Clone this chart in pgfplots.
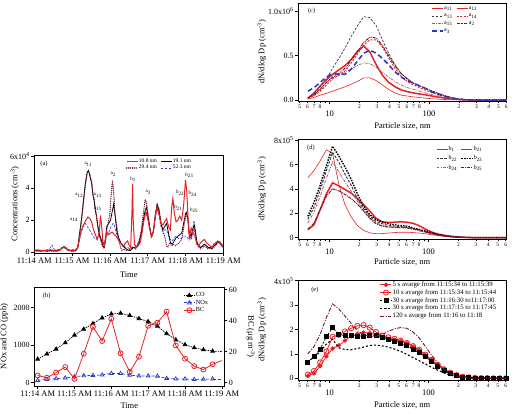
\documentclass[border=0pt]{standalone}
\usepackage{fontspec}
\setmainfont{Liberation Serif}
\usepackage{pgfplots}
\pgfplotsset{compat=1.18}
\usepackage{pgfplotstable}

\definecolor{myred}{RGB}{232,32,36}
\definecolor{mymaroon}{RGB}{112,18,48}
\definecolor{mymauve}{RGB}{170,80,110}
\definecolor{mygray}{RGB}{55,55,65}
\definecolor{myblue}{RGB}{40,55,195}
\newcommand{\fs}[1]{\fontsize{#1}{#1}\selectfont}

\pgfplotsset{
 panel/.style={
  scale only axis,
  axis line style={line width=0.6pt},
  tick align=outside,
  major tick length=3bp, minor tick length=2bp,
  tick style={line width=0.5pt,black},
  tick label style={font=\fontsize{8.5}{9}\selectfont, inner sep=1.5pt},
  yticklabel style={font=\fontsize{8}{9}\selectfont},
  label style={font=\fontsize{8.5}{10}\selectfont},
  legend style={draw=none, fill=none, inner sep=0pt, outer sep=0pt, row sep=0pt, nodes={inner sep=0.6pt}},
  legend cell align=left,
  legend image code/.code={\draw[mark repeat=2,mark phase=2,##1] plot coordinates {(0bp,0bp) (5.5bp,0bp) (11bp,0bp)};},
 },
 lpanel/.style={panel, xtick pos=left, ytick pos=left},
 psd/.style={lpanel,
   xtick={10,100}, xticklabels={10,100}, minor xtick={9,90},
   extra x ticks={5,6,7,8,20,30,40,50,60,70,80,200,300,400,500,600},
   extra x tick labels={5,6,7,8,2,3,4,5,6,7,8,2,3,4,5,6},
   xticklabel shift=5bp,
   extra x tick style={xticklabel shift=0bp, major tick length=2bp, tick label style={font=\fontsize{5.5}{6}\selectfont}},
   xlabel={Particle size, nm}, ylabel={dN/dlog Dp (cm\textsuperscript{-3})},
   ylabel style={at={(axis description cs:-0.175,0.5)}, anchor=center},
 },
}

\pgfplotstableread{
dp a11 a12 a13 a14 a15 a2 a3
6.04 0.01 0.02 0.02 0.02 0.015 0.02 0.10
6.97 0.03 0.08 0.07 0.05 0.06 0.06 0.14
8.05 0.055 0.16 0.15 0.10 0.13 0.12 0.20
9.30 0.075 0.23 0.24 0.17 0.20 0.20 0.26
10.74 0.10 0.29 0.36 0.24 0.25 0.26 0.30
12.40 0.125 0.34 0.47 0.28 0.28 0.30 0.29
14.32 0.15 0.39 0.59 0.33 0.31 0.36 0.29
16.54 0.18 0.46 0.72 0.42 0.35 0.45 0.35
19.1 0.21 0.55 0.84 0.52 0.39 0.55 0.44
22.05 0.25 0.61 0.94 0.62 0.42 0.65 0.53
25.47 0.25 0.54 0.93 0.68 0.41 0.71 0.56
29.4 0.22 0.40 0.84 0.68 0.37 0.70 0.53
33.96 0.17 0.28 0.68 0.60 0.31 0.62 0.47
39.2 0.12 0.20 0.53 0.48 0.26 0.50 0.40
45.3 0.08 0.15 0.40 0.36 0.21 0.39 0.32
52.3 0.055 0.115 0.30 0.27 0.17 0.30 0.26
60.4 0.045 0.095 0.24 0.21 0.14 0.24 0.22
69.7 0.035 0.08 0.19 0.17 0.12 0.19 0.19
80.5 0.028 0.068 0.16 0.14 0.10 0.16 0.16
93.0 0.02 0.058 0.13 0.11 0.08 0.13 0.13
107.4 0.015 0.045 0.10 0.085 0.06 0.10 0.09
124.0 0.01 0.033 0.075 0.06 0.045 0.075 0.065
143.2 0.006 0.022 0.05 0.04 0.03 0.05 0.04
165.4 0.004 0.013 0.03 0.025 0.02 0.03 0.025
191 0.002 0.007 0.015 0.012 0.01 0.015 0.012
220.5 0.001 0.003 0.007 0.005 0.005 0.007 0.005
254.7 0.001 0.001 0.003 0.002 0.002 0.003 0.002
294 0 0 0.001 0.001 0.001 0.001 0.001
339.6 0 0 0 0 0 0 0
392 0 0 0 0 0 0 0
453 0 0 0 0 0 0 0
523 0 0 0 0 0 0 0
604 0 0 0 0 0 0 0
}\tabc

\pgfplotstableread{
dp b1 b21 b22 b23 b24 b25
6.04 4.9 0.65 1.5 1.75 1.2 0.7
6.97 5.5 1.05 2.5 2.9 2.1 1.2
8.05 6.3 2.3 3.9 4.3 3.4 2.3
9.30 7.2 3.6 5.5 5.9 4.9 3.4
10.74 6.9 4.5 7.0 7.5 6.2 4.0
12.40 4.4 4.25 6.2 6.7 5.4 3.85
14.32 2.7 3.95 5.2 5.8 4.6 3.55
16.54 1.7 3.65 4.3 4.8 3.8 3.2
19.1 1.0 3.2 3.2 3.6 3.0 2.75
22.05 0.6 2.7 2.4 2.6 2.2 2.2
25.47 0.4 2.2 1.75 1.9 1.6 1.6
29.4 0.33 1.6 1.35 1.5 1.25 1.15
33.96 0.34 1.3 1.15 1.3 1.0 0.95
39.2 0.38 1.25 1.0 1.15 0.9 0.87
45.3 0.42 1.27 0.95 1.05 0.85 0.85
52.3 0.45 1.3 0.9 1.0 0.82 0.85
60.4 0.45 1.27 0.85 0.95 0.78 0.82
69.7 0.42 1.18 0.75 0.8 0.68 0.74
80.5 0.38 0.98 0.62 0.68 0.56 0.62
93.0 0.32 0.7 0.5 0.55 0.44 0.47
107.4 0.24 0.46 0.37 0.4 0.32 0.33
124 0.17 0.3 0.25 0.27 0.22 0.22
143.2 0.11 0.2 0.16 0.17 0.14 0.14
165.4 0.07 0.13 0.1 0.1 0.08 0.08
191 0.04 0.08 0.05 0.06 0.04 0.04
220.5 0.02 0.04 0.025 0.03 0.02 0.02
254.7 0.01 0.02 0.01 0.015 0.01 0.01
294 0 0.01 0 0 0 0
339.6 0 0 0 0 0 0
392 0 0 0 0 0 0
453 0 0 0 0 0 0
523 0 0 0 0 0 0
604 0 0 0 0 0 0
}\tabd

\pgfplotstableread{
dp s5 s10 s30a s30b s120
6.04 0.1 0.15 0.65 0.7 1.0
6.97 0.2 0.3 0.9 0.85 1.3
8.05 0.5 0.65 1.2 1.1 1.8
9.30 0.9 1.1 1.7 1.4 2.5
10.74 1.22 1.7 2.08 1.6 3.05
12.40 1.35 1.78 1.8 1.25 2.85
14.32 1.55 1.92 1.75 1.18 2.55
16.54 1.72 2.05 1.76 1.17 2.25
19.1 1.82 2.15 1.73 1.22 1.95
22.05 1.88 2.18 1.73 1.28 1.8
25.47 1.86 2.08 1.77 1.35 1.72
29.4 1.78 1.9 1.75 1.36 1.72
33.96 1.65 1.75 1.66 1.33 1.8
39.2 1.6 1.68 1.6 1.28 1.92
45.3 1.58 1.62 1.53 1.2 2.03
52.3 1.53 1.55 1.45 1.1 2.08
60.4 1.43 1.45 1.33 0.98 2.05
69.7 1.3 1.32 1.18 0.85 1.9
80.5 1.15 1.17 1.05 0.72 1.65
93.0 0.95 0.97 0.88 0.58 1.3
107.4 0.75 0.75 0.7 0.45 0.95
124 0.55 0.55 0.5 0.33 0.62
143.2 0.37 0.37 0.33 0.22 0.38
165.4 0.23 0.23 0.2 0.13 0.2
191 0.13 0.13 0.1 0.07 0.1
220.5 0.07 0.07 0.05 0.03 0.05
254.7 0.04 0.04 0.03 0.01 0.02
294 0.02 0.02 0.01 0 0
339.6 0.01 0.01 0 0 0
392 0.01 0.01 0 0 0
453 0 0 0 0 0
523 0 0 0 0 0
604 0 0 0 0 0
}\tabe

\begin{document}
\begin{tikzpicture}
\useasboundingbox (0,0) rectangle (515bp,-418bp);

% ---------------- (a)
\begin{axis}[lpanel, at={(34.3bp,-155bp)}, anchor=north west, width=189bp, height=98bp,
  xmin=0, xmax=300, ymin=-0.05, ymax=6.07,
  xtick={0,60,120,180,240,300},
  xticklabels={11:14 AM,11:15 AM,11:16 AM,11:17 AM,11:18 AM,11:19 AM},
  ytick={0,2,4,6}, yticklabels={0,2,4,6x10\textsuperscript{4}},
  xlabel={Time}, ylabel={Concentrations (cm\textsuperscript{-3})},
  ylabel style={at={(axis description cs:-0.102,0.5)}, anchor=center},
  xlabel style={at={(axis description cs:0.5,-0.225)}, anchor=center},
  legend columns=2,
  legend style={at={(axis description cs:0.485,0.965)}, anchor=north west, font=\fs{5.5},
    /tikz/every even column/.append style={column sep=3bp}},
]
\addplot[myblue, line width=0.6pt, dash pattern=on 2.5pt off 1.5pt, forget plot] coordinates {
(0,0.15)(5,0.1)(10,0.15)(15,0.1)(20,0.15)(25,0.25)(28,0.45)(31,0.2)(35,0.15)(40,0.2)(44,0.3)(47,0.3)(50,0.2)(53,0.15)(57,0.2)(62,0.15)(66,0.2)(69,0.3)(72,0.8)(75,1.3)(78,1.6)(81,1.8)(84,1.6)(86,1.5)(89,1.3)(92,1.1)(95,0.9)(98,0.8)(101,0.9)(104,1.0)(107,0.8)(110,0.6)(113,0.8)(116,1.1)(119,1.3)(122,1.6)(125,1.8)(127,1.7)(130,1.2)(133,0.9)(136,0.7)(139,0.5)(142,0.4)(145,0.3)(148,0.3)(152,0.2)(155,0.3)(158,0.4)(161,0.4)(164,0.5)(167,0.8)(170,1.3)(173,1.9)(176,2.3)(178,2.4)(180,2.1)(183,1.5)(186,1.0)(189,1.3)(192,2.2)(195,2.7)(198,2.3)(201,1.6)(204,1.3)(207,1.4)(210,1.4)(213,1.0)(216,0.8)(219,0.7)(222,0.9)(225,1.0)(228,0.9)(231,0.8)(234,0.9)(237,1.0)(240,1.0)(243,0.9)(246,0.8)(249,1.0)(252,1.6)(253.5,2.0)(255,1.5)(258,0.7)(261,0.4)(264,0.3)(267,0.4)(270,0.5)(273,0.4)(276,0.3)(279,0.3)(282,0.35)(285,0.4)(288,0.5)(291,0.6)(294,0.7)(297,0.5)(300,0.4)};
\addplot[black, line width=0.8pt, forget plot] coordinates {
(0,0.08)(5,0.1)(10,0.08)(15,0.1)(20,0.08)(25,0.1)(30,0.1)(35,0.08)(40,0.12)(44,0.25)(47,0.35)(50,0.3)(53,0.15)(57,0.1)(62,0.08)(66,0.1)(69,0.3)(72,1.2)(75,2.1)(78,3.2)(81,4.3)(84,5.0)(86,5.1)(88,4.8)(91,4.3)(93,3.6)(95,3.2)(97,2.6)(99,2.2)(101,1.6)(103,1.2)(105,0.9)(107,0.7)(109,0.4)(111,0.3)(113,0.8)(115,1.6)(118,1.8)(121,2.0)(124,2.6)(126,3.0)(128,2.4)(131,1.3)(134,0.9)(137,0.6)(140,0.4)(143,0.3)(146,0.2)(149,0.15)(152,0.1)(155,0.2)(158,0.3)(161,0.25)(164,0.4)(167,0.6)(170,1.2)(173,2.0)(176,2.6)(178,2.8)(180,2.4)(183,1.6)(186,1.0)(189,1.3)(192,2.3)(195,3.0)(198,2.6)(201,1.8)(204,1.4)(207,1.6)(210,1.8)(213,1.2)(216,0.6)(219,0.5)(222,0.7)(225,0.9)(228,1.0)(231,1.1)(234,1.2)(237,1.8)(240,2.4)(242,2.5)(244,2.0)(246,1.2)(249,1.0)(252,1.5)(254,1.7)(256,1.2)(258,0.6)(261,0.4)(264,0.3)(267,0.4)(270,0.5)(273,0.4)(276,0.3)(279,0.3)(282,0.2)(285,0.4)(288,0.5)(291,0.65)(294,0.6)(297,0.45)(300,0.35)};
\addplot[mymaroon, line width=1.4pt, dash pattern=on 0.01pt off 1.9pt, line cap=round, forget plot] coordinates {
(0,0.05)(5,0.08)(10,0.05)(15,0.08)(20,0.05)(25,0.08)(30,0.06)(35,0.05)(40,0.1)(44,0.25)(47,0.3)(50,0.25)(53,0.12)(57,0.08)(62,0.05)(66,0.1)(69,0.3)(72,1.1)(75,2.0)(78,3.1)(81,4.2)(84,4.95)(86,5.05)(88,4.9)(91,4.4)(93,3.7)(95,3.3)(97,2.7)(99,2.1)(101,1.5)(103,1.1)(105,0.8)(107,0.5)(109,0.3)(111,0.25)(113,0.7)(115,1.4)(118,2.0)(120,2.4)(122,3.6)(124,4.45)(126,3.8)(128,2.4)(131,1.6)(134,0.8)(137,0.3)(139,0.1)(142,0.2)(146,0.1)(149,0.1)(152,0.15)(155,0.3)(158,0.3)(161,0.2)(164,0.5)(167,0.8)(170,1.4)(173,2.4)(176,3.3)(178,3.1)(180,2.5)(183,1.6)(186,0.9)(189,1.2)(192,2.3)(195,3.0)(198,2.7)(201,1.9)(204,1.3)(207,1.0)(210,0.4)(212,0.3)(215,0.6)(218,0.4)(221,0.5)(224,0.4)(227,0.5)(230,0.6)(234,0.8)(237,1.5)(240,2.2)(242,2.4)(244,1.9)(246,1.1)(249,0.8)(252,1.3)(254,1.5)(256,1.0)(258,0.5)(261,0.3)(264,0.2)(267,0.3)(270,0.4)(273,0.3)(276,0.2)(279,0.25)(282,0.2)(285,0.3)(288,0.4)(291,0.6)(294,0.55)(297,0.4)(300,0.3)};
\addplot[myred, line width=1pt, forget plot] coordinates {
(0,0.1)(5,0.15)(10,0.1)(15,0.12)(20,0.1)(25,0.15)(30,0.12)(35,0.1)(40,0.15)(44,0.25)(47,0.32)(50,0.28)(53,0.15)(57,0.1)(62,0.1)(66,0.15)(69,0.3)(72,0.9)(75,1.4)(78,1.7)(82,2.0)(85,2.2)(88,2.1)(91,1.9)(94,1.4)(97,1.1)(100,0.8)(103,1.2)(105,2.3)(107,1.6)(109,0.6)(111,0.4)(113,0.9)(115,1.3)(118,1.1)(121,1.2)(124,1.25)(127,1.1)(130,1.0)(133,0.8)(136,0.6)(139,0.5)(142,0.4)(145,0.6)(148,0.7)(151,0.4)(153,0.3)(155,2.5)(156,4.25)(157,2.0)(159,0.5)(162,0.3)(165,0.4)(168,0.6)(171,1.2)(174,2.0)(177,2.55)(180,2.1)(183,1.5)(186,1.0)(189,1.3)(192,2.2)(195,2.8)(198,2.4)(201,1.8)(204,1.7)(207,1.9)(210,2.1)(213,1.6)(216,1.4)(218,2.8)(220,3.35)(222,2.5)(225,1.9)(228,2.0)(231,2.25)(234,2.0)(237,2.9)(240,4.5)(242,3.8)(244,2.2)(246,0.9)(249,1.5)(252,1.2)(255,1.0)(258,0.5)(261,0.4)(264,0.6)(267,0.7)(270,0.8)(273,0.6)(276,0.5)(279,0.4)(282,0.3)(285,0.5)(288,0.6)(291,0.7)(294,0.65)(297,0.5)(300,0.4)};
\addlegendimage{myred, line width=1pt}\addlegendentry{10.8 nm}
\addlegendimage{black, line width=0.8pt}\addlegendentry{19.1 nm}
\addlegendimage{mymaroon, line width=1.4pt, dash pattern=on 0.01pt off 1.9pt, line cap=round}\addlegendentry{29.4 nm}
\addlegendimage{myblue, line width=0.6pt, dash pattern=on 2.5pt off 1.5pt}\addlegendentry{52.3 nm}
\node[font=\fs{6.5}] at (axis description cs:0.051,0.905) {(a)};
\begin{scope}[every node/.style={font=\fs{5}}]
\node at (axis cs:85.7,5.47) {a\textsubscript{11}};
\node at (axis cs:71.4,3.54) {a\textsubscript{12}};
\node at (axis cs:63,2.03) {a\textsubscript{14}};
\node at (axis cs:100.6,3.54) {a\textsubscript{13}};
\node at (axis cs:100.6,2.72) {a\textsubscript{15}};
\node at (axis cs:125.4,4.86) {a\textsubscript{2}};
\node at (axis cs:157,4.55) {b\textsubscript{1}};
\node at (axis cs:181,3.75) {a\textsubscript{3}};
\node at (axis cs:246,4.8) {b\textsubscript{23}};
\node at (axis cs:231.3,3.71) {b\textsubscript{22}};
\node at (axis cs:251.4,3.65) {b\textsubscript{24}};
\node at (axis cs:228.6,2.77) {b\textsubscript{21}};
\node at (axis cs:253.5,2.62) {b\textsubscript{25}};
\end{scope}
\end{axis}

% ---------------- (b) left
\begin{axis}[lpanel, at={(34.3bp,-287bp)}, anchor=north west, width=190bp, height=99bp,
  clip=false,
  xmin=-5.5, xmax=304, ymin=-90, ymax=2550,
  xtick={0,60,120,180,240,300},
  xticklabels={11:14 AM,11:15 AM,11:16 AM,11:17 AM,11:18 AM,11:19 AM},
  ytick={0,1000,2000}, yticklabels={0,1000,2000},
  xlabel={Time}, ylabel={NOx and CO (ppb)},
  ylabel style={at={(axis description cs:-0.158,0.5)}, anchor=center, inner sep=0pt},
  xlabel style={at={(axis description cs:0.5,-0.202)}, anchor=center},
  legend style={at={(axis description cs:0.785,0.95)}, anchor=north west, font=\fs{6.3}, row sep=0.6bp},
]
\addplot[black, line width=0.7pt, dash pattern=on 1.5pt off 1pt, mark=triangle*, mark size=2.2bp, mark options={solid}] coordinates {
(0,627)(15,765)(30,894)(45,1063)(60,1268)(75,1427)(90,1574)(105,1725)(120,1832)(135,1850)(150,1792)(165,1708)(180,1627)(195,1507)(210,1307)(225,1142)(240,1013)(255,929)(270,876)(285,840)};
\addlegendentry{CO}
\addplot[myblue, line width=0.7pt, dash pattern=on 3pt off 2pt, mark=triangle, mark size=2.2bp, mark options={solid}] coordinates {
(0,62)(15,85)(30,107)(45,125)(60,160)(75,183)(90,192)(105,205)(120,245)(135,245)(150,200)(165,178)(180,178)(195,174)(210,112)(225,98)(240,98)(255,85)(270,89)(285,98)};
\addlegendentry{NOx}
\addlegendimage{myred, line width=0.8pt, mark=o, mark size=2.5bp, mark options={fill=white}}
\addlegendentry{BC}
\addplot[black, line width=0.7pt, dash pattern=on 1.5pt off 1pt, forget plot] coordinates {(285,840)(300,830)};
\addplot[myblue, line width=0.7pt, dash pattern=on 3pt off 2pt, forget plot] coordinates {(285,98)(300,98)};
\node[font=\fs{6.5}] at (axis description cs:0.065,0.905) {(b)};
\node[rotate=-90, inner sep=0pt, font=\fontsize{8.5}{10}\selectfont] at (axis description cs:1.139,0.5) {BC (μg m\textsuperscript{-3})};
\end{axis}

% ---------------- (b) right
\begin{axis}[panel, at={(34.3bp,-287bp)}, anchor=north west, width=190bp, height=99bp,
  axis y line*=right, axis x line=none, ytick pos=right, yticklabel pos=right,
  xmin=-5.5, xmax=304, ymin=-2.1, ymax=61.7,
  ytick={0,20,40,60}, yticklabels={0,20,40,60},
]
\addplot[myred, line width=0.8pt, mark=o, mark size=2.5bp, mark options={fill=white}] coordinates {
(0,4.7)(15,3.2)(30,6.6)(45,10.1)(60,2.5)(75,18.7)(90,36)(105,26.9)(120,41.2)(135,19)(150,7)(165,16.8)(180,36.7)(195,38.7)(210,45.8)(225,24)(240,15.5)(255,10.7)(270,8.5)(285,11.9)};
\addplot[myred, line width=0.8pt] coordinates {(285,11.9)(300,14.3)};
\end{axis}

% ---------------- (c)
\begin{axis}[xmode=log, xmin=4.84, xmax=605, psd, at={(298.3bp,-3bp)}, anchor=north west, width=208.4bp, height=98bp,
  ymin=-0.011, ymax=1.095,
  ytick={0,0.5,1}, yticklabels={0.0,0.5,1.0x10\textsuperscript{6}},
  xlabel style={at={(axis description cs:0.5,-0.255)}, anchor=center},
  legend columns=2,
  legend style={at={(axis description cs:0.637,0.97)}, anchor=north west, font=\fs{6}, row sep=2bp,
    /tikz/every even column/.append style={column sep=3bp}},
]
\addplot[myred, line width=0.6pt] table[x=dp,y=a11]{\tabc}; \addlegendentry{a\textsubscript{11}}
\addplot[myred, line width=1.5pt] table[x=dp,y=a12]{\tabc}; \addlegendentry{a\textsubscript{12}}
\addplot[mygray, line width=0.7pt, dash pattern=on 2.5pt off 1.5pt] table[x=dp,y=a13]{\tabc}; \addlegendentry{a\textsubscript{13}}
\addplot[myred, line width=1pt, dash pattern=on 2pt off 1.5pt] table[x=dp,y=a14]{\tabc}; \addlegendentry{a\textsubscript{14}}
\addplot[mymauve, line width=0.7pt, dash pattern=on 3pt off 1.2pt on 0.8pt off 1.2pt] table[x=dp,y=a15]{\tabc}; \addlegendentry{a\textsubscript{15}}
\addplot[mymaroon, line width=1pt, dash pattern=on 3pt off 1pt on 0.8pt off 1pt on 0.8pt off 1pt] table[x=dp,y=a2]{\tabc}; \addlegendentry{a\textsubscript{2}}
\addplot[myblue, line width=1.5pt, dash pattern=on 5pt off 3pt] table[x=dp,y=a3]{\tabc}; \addlegendentry{a\textsubscript{3}}
\node[font=\fs{6.5}] at (axis description cs:0.064,0.921) {(c)};
\end{axis}

% ---------------- (d)
\begin{axis}[xmode=log, xmin=4.84, xmax=605, psd, at={(298.3bp,-139bp)}, anchor=north west, width=207.7bp, height=100bp,
  ymin=-0.107, ymax=8.09,
  ytick={0,2,4,6,8}, yticklabels={0,2,4,6,8x10\textsuperscript{5}},
  xlabel style={at={(axis description cs:0.5,-0.237)}, anchor=center},
  legend columns=2,
  legend style={at={(axis description cs:0.663,0.93)}, anchor=north west, font=\fs{6}, row sep=2.3bp,
    /tikz/every even column/.append style={column sep=3bp}},
]
\addplot[myred, line width=0.6pt] table[x=dp,y=b1]{\tabd}; \addlegendentry{b\textsubscript{1}}
\addplot[myred, line width=1.5pt] table[x=dp,y=b21]{\tabd}; \addlegendentry{b\textsubscript{21}}
\addplot[mygray, line width=1pt, dash pattern=on 2.5pt off 1.5pt] table[x=dp,y=b22]{\tabd}; \addlegendentry{b\textsubscript{22}}
\addplot[black, line width=1.4pt, dash pattern=on 1.5pt off 1.2pt] table[x=dp,y=b23]{\tabd}; \addlegendentry{b\textsubscript{23}}
\addplot[mymauve, line width=0.8pt, dash pattern=on 3pt off 1.2pt on 0.8pt off 1.2pt] table[x=dp,y=b24]{\tabd}; \addlegendentry{b\textsubscript{24}}
\addplot[mymaroon, line width=1pt, dash pattern=on 3pt off 1pt on 1pt off 1pt] table[x=dp,y=b25]{\tabd}; \addlegendentry{b\textsubscript{25}}
\node[font=\fs{6.5}] at (axis description cs:0.061,0.907) {(d)};
\end{axis}

% ---------------- (e)
\begin{axis}[xmode=log, xmin=4.84, xmax=605, psd, at={(298.3bp,-280bp)}, anchor=north west, width=207.7bp, height=100bp,
  ymin=-0.07, ymax=4.03, clip mode=individual,
  ytick={0,1,2,3,4}, yticklabels={0,1,2,3,4x10\textsuperscript{5}},
  xlabel style={at={(axis description cs:0.5,-0.25)}, anchor=center},
  legend style={at={(axis description cs:0.393,0.99)}, anchor=north west, font=\fs{6.8}, row sep=0.4bp},
]
\addplot[myred, line width=0.8pt, mark=*, mark size=1.8bp] table[x=dp,y=s5]{\tabe};
\addlegendentry{5 s avarge from 11:15:34 to 11:15:39}
\addplot[myred, line width=0.8pt, mark=o, mark size=2.6bp, mark options={fill=white}] table[x=dp,y=s10]{\tabe};
\addlegendentry{10 s avarge from 11:15:34 to 11:15:44}
\addplot[black, line width=0.8pt, dash pattern=on 2pt off 1.5pt, mark=square*, mark size=2bp, mark options={solid}] table[x=dp,y=s30a]{\tabe};
\addlegendentry{30 s avarge from 11:16:30 to11:17:00}
\addplot[black, line width=1.1pt, dash pattern=on 2pt off 2pt] table[x=dp,y=s30b]{\tabe};
\addlegendentry{30 s avarge from 11:17:15 to 11:17:45}
\addplot[mymaroon, line width=0.9pt, dash pattern=on 4pt off 1.5pt on 1pt off 1.5pt] table[x=dp,y=s120]{\tabe};
\addlegendentry{120 s avarge from 11:16 to 11:18}
\node[font=\fs{6.5}] at (axis description cs:0.08,0.9) {(e)};
\end{axis}
\end{tikzpicture}
\end{document}
